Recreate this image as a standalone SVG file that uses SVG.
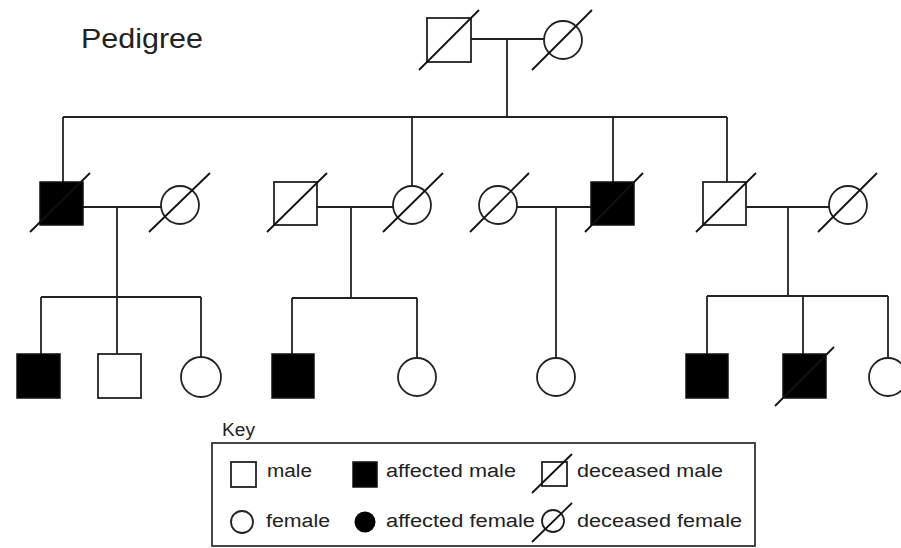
<svg xmlns="http://www.w3.org/2000/svg" width="901" height="548" viewBox="0 0 901 548">
<style>
.ln{stroke:#222;stroke-width:1.8;fill:none}
.m{fill:#fff;stroke:#222;stroke-width:1.8}
.a{fill:#000;stroke:#111;stroke-width:1.5}
.f{fill:#fff;stroke:#222;stroke-width:1.8}
.d{stroke:#111;stroke-width:1.8;fill:none}
text{font-family:"Liberation Sans",Arial,sans-serif;fill:#222}
.k{font-size:18px}
</style>
<rect width="901" height="548" fill="#fff"/>
<text x="81" y="48" font-size="28" textLength="122" lengthAdjust="spacingAndGlyphs">Pedigree</text>
<g id="connectors">
<path class="ln" d="M471 39H544M507 39V117M63 117H727M63 117V182M412 117V186M613 117V182M727 117V182"/>
<path class="ln" d="M83 207H161M117 207V297M41 297H201M41 297V354M117 297V354M201 297V357"/>
<path class="ln" d="M317 207H393M351 207V298M292 298H417M292 298V354M417 298V358"/>
<path class="ln" d="M517 207H591M556 207V358"/>
<path class="ln" d="M746 207H829M788 207V296M707 296H888M707 296V354M803 296V354M888 296V358"/>
</g>
<g id="I-1"><rect class="m" x="427" y="18" width="44" height="44"/><line class="d" x1="419" y1="70" x2="479" y2="10"/></g>
<g id="I-2"><circle class="f" cx="563" cy="40" r="19"/><line class="d" x1="532" y1="70" x2="592" y2="10"/></g>
<g id="II-1"><rect class="a" x="40" y="182" width="43" height="43"/><line class="d" x1="30" y1="232" x2="90" y2="173"/></g>
<g id="II-2"><circle class="f" cx="180" cy="205" r="19"/><line class="d" x1="149" y1="232" x2="210" y2="173"/></g>
<g id="II-3"><rect class="m" x="274" y="182" width="43" height="43"/><line class="d" x1="267" y1="232" x2="327" y2="173"/></g>
<g id="II-4"><circle class="f" cx="412" cy="205" r="19"/><line class="d" x1="383" y1="232" x2="443" y2="173"/></g>
<g id="II-5"><circle class="f" cx="498" cy="205" r="19"/><line class="d" x1="470" y1="232" x2="529" y2="173"/></g>
<g id="II-6"><rect class="a" x="591" y="182" width="43" height="43"/><line class="d" x1="585" y1="232" x2="643" y2="173"/></g>
<g id="II-7"><rect class="m" x="703" y="182" width="43" height="43"/><line class="d" x1="696" y1="232" x2="756" y2="173"/></g>
<g id="II-8"><circle class="f" cx="848" cy="205" r="19"/><line class="d" x1="818" y1="232" x2="877" y2="173"/></g>
<g id="III-1"><rect class="a" x="17" y="354" width="43" height="44"/></g>
<g id="III-2"><rect class="m" x="98" y="354" width="43" height="44"/></g>
<g id="III-3"><circle class="f" cx="201" cy="377" r="20"/></g>
<g id="III-4"><rect class="a" x="272" y="354" width="42" height="44"/></g>
<g id="III-5"><circle class="f" cx="417" cy="377" r="19"/></g>
<g id="III-6"><circle class="f" cx="556" cy="377" r="19"/></g>
<g id="III-7"><rect class="a" x="686" y="354" width="42" height="44"/></g>
<g id="III-8"><rect class="a" x="783" y="354" width="43" height="44"/><line class="d" x1="775" y1="406" x2="834" y2="347"/></g>
<g id="III-9"><circle class="f" cx="888" cy="377" r="19"/></g>
<g id="key">
<text class="k" x="222" y="436" font-size="17" textLength="33" lengthAdjust="spacingAndGlyphs">Key</text>
<rect x="212" y="443" width="543" height="103" fill="none" stroke="#333" stroke-width="1.8"/>
<rect class="m" x="231" y="462" width="25" height="25" stroke-width="1.5"/>
<text class="k" x="267" y="477" textLength="45" lengthAdjust="spacingAndGlyphs">male</text>
<rect class="a" x="353" y="462" width="24" height="25"/>
<text class="k" x="386" y="477" textLength="130" lengthAdjust="spacingAndGlyphs">affected male</text>
<rect class="m" x="542" y="462" width="25" height="24" stroke-width="1.5"/>
<line class="d" x1="532" y1="493" x2="572" y2="454" stroke-width="1.5"/>
<text class="k" x="577" y="477" textLength="146" lengthAdjust="spacingAndGlyphs">deceased male</text>
<circle class="f" cx="242" cy="522" r="11" stroke-width="1.5"/>
<text class="k" x="266" y="527" textLength="64" lengthAdjust="spacingAndGlyphs">female</text>
<circle cx="365" cy="522" r="10.5" fill="#000"/>
<text class="k" x="386" y="527" textLength="149" lengthAdjust="spacingAndGlyphs">affected female</text>
<circle class="f" cx="553" cy="521" r="11" stroke-width="1.5"/>
<line class="d" x1="532" y1="542" x2="572" y2="503" stroke-width="1.5"/>
<text class="k" x="577" y="527" textLength="165" lengthAdjust="spacingAndGlyphs">deceased female</text>
</g>
</svg>
